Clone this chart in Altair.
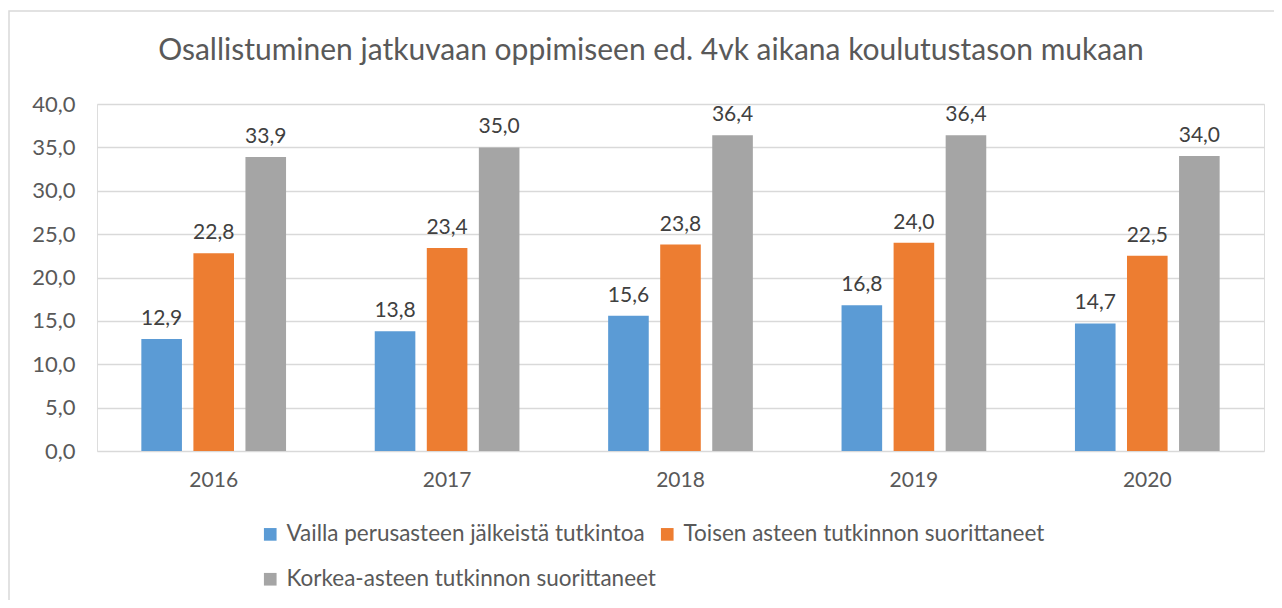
import altair as alt
import pandas as pd

title_text = "Osallistuminen jatkuvaan oppimiseen ed. 4vk aikana koulutustason mukaan"
years = ["2016", "2017", "2018", "2019", "2020"]
series = [
    "Vailla perusasteen jälkeistä tutkintoa",
    "Toisen asteen tutkinnon suorittaneet",
    "Korkea-asteen tutkinnon suorittaneet",
]
vailla = [12.9, 13.8, 15.6, 16.8, 14.7]
toisen = [22.8, 23.4, 23.8, 24.0, 22.5]
korkea = [33.9, 35.0, 36.4, 36.4, 34.0]
colors = ["#5B9BD5", "#ED7D31", "#A5A5A5"]
y_ticks = [0, 5, 10, 15, 20, 25, 30, 35, 40]

rows = []
for s, vals in zip(series, [vailla, toisen, korkea]):
    for y, v in zip(years, vals):
        rows.append({"year": y, "series": s, "value": v})
df = pd.DataFrame(rows)

FONT = "Lato"
TXT = "#595959"

x_enc = alt.X("year:N", sort=years, title=None,
              scale=alt.Scale(paddingInner=0.38, paddingOuter=0.19),
              axis=alt.Axis(labelAngle=0, domain=False, ticks=False, labelPadding=18,
                            labelFontSize=21, labelColor=TXT, labelFont=FONT))
xo_enc = alt.XOffset("series:N", sort=series,
                     scale=alt.Scale(paddingInner=0.22, paddingOuter=0))
y_enc = alt.Y("value:Q", title=None,
              scale=alt.Scale(domain=[0, 40], nice=False),
              axis=alt.Axis(values=y_ticks, domain=False, ticks=False, labelPadding=22,
                            labelExpr="replace(format(datum.value, '.1f'), '.', ',')",
                            labelFontSize=22, labelColor=TXT, labelFont=FONT,
                            gridColor="#D9D9D9", gridWidth=1.3))

base = alt.Chart(df)

bars = base.mark_bar().encode(
    x=x_enc, xOffset=xo_enc, y=y_enc,
    color=alt.Color("series:N", sort=series,
                    scale=alt.Scale(domain=series, range=colors),
                    legend=alt.Legend(title=None, orient="none", legendX=162, legendY=419,
                                      direction="horizontal", columns=2,
                                      symbolType="square", symbolSize=160,
                                      symbolStrokeWidth=0, symbolOpacity=1,
                                      labelFontSize=22.5, labelColor=TXT, labelFont=FONT,
                                      labelOffset=5,
                                      rowPadding=22, columnPadding=0,
                                      labelLimit=500)),
)

labels = base.transform_calculate(
    label="replace(format(datum.value, '.1f'), '.', ',')"
).mark_text(baseline="bottom", dy=-10, fontSize=21, color="#404040", font=FONT).encode(
    x=x_enc, xOffset=xo_enc, y=y_enc, text="label:N"
)

border = alt.Chart(pd.DataFrame({"a": [0]})).mark_rect(
    fill=None, stroke="#D9D9D9", strokeWidth=1.5
).encode(x=alt.value(-88), x2=alt.value(1300), y=alt.value(-93), y2=alt.value(700))

title = alt.Chart(pd.DataFrame({"t": [title_text]})).mark_text(
    fontSize=30, font=FONT, color=TXT, align="center", baseline="alphabetic"
).encode(x=alt.value(554), y=alt.value(-44), text="t:N")

chart = alt.layer(border, bars, labels, title).properties(
    width=1167, height=347,
    autosize=alt.AutoSizeParams(type="none"),
    padding={"left": 89, "top": 96, "right": 10, "bottom": 149},
).configure_view(stroke=None).configure(background="white")

chart.save("out.html", embed_options={"renderer": "svg", "actions": False})
